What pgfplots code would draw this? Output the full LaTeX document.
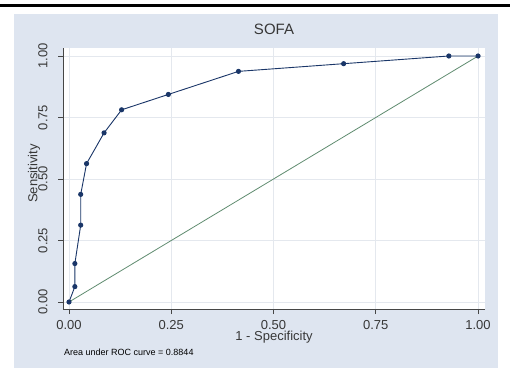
\documentclass[border=0pt]{standalone}
\usepackage{pgfplots}
\pgfplotsset{compat=1.18}
\usepackage{fontspec}
\setmainfont{Liberation Sans}
\definecolor{panel}{RGB}{222,229,240}
\definecolor{navy}{RGB}{26,54,104}
\definecolor{diag}{RGB}{96,140,112}
\definecolor{gridc}{RGB}{228,232,238}
\definecolor{axc}{RGB}{70,70,70}
\definecolor{txt}{RGB}{55,55,55}
\begin{document}
\begin{tikzpicture}[x=1pt,y=1pt]
\path[use as bounding box] (0,0) rectangle (510,368);
\fill[panel] (14,0) rectangle (498,354);
\fill[black] (0,361) rectangle (510,364);
\begin{axis}[
 at={(63pt,59pt)}, anchor=south west,
 scale only axis, width=422pt, height=261pt,
 xmin=-0.0147, xmax=1.017, ymin=-0.0285, ymax=1.0325,
 axis background/.style={fill=white},
 axis x line*=bottom, axis y line*=left,
 axis line style={axc, line width=0.9pt, -},
 xtick={0,0.25,0.5,0.75,1}, ytick={0,0.25,0.5,0.75,1},
 tick align=outside, major tick length=5pt,
 tick style={axc, line width=0.8pt},
 grid=major, major grid style={gridc, line width=0.8pt},
 /pgf/number format/.cd, fixed, fixed zerofill, precision=2, assume math mode=true,
 /pgfplots/.cd,
 ticklabel style={font=\fontsize{13}{15}\selectfont, text=txt},
 xticklabel style={yshift=-3pt},
 yticklabel style={xshift=-7pt, rotate=90, anchor=south},
 xlabel={1 - Specificity},
 ylabel={Sensitivity},
 label style={font=\fontsize{13}{15}\selectfont, text=txt},
 xlabel style={at={(axis description cs:0.5,0)}, anchor=center, yshift=-28pt},
 ylabel style={at={(axis description cs:0,0.519)}, anchor=center, yshift=29pt},
]
\addplot[diag, line width=0.8pt] coordinates {(0,0) (1,1)};
\addplot[navy, line width=0.9pt, mark=*, mark size=2.1pt, mark options={fill=navy, draw=navy}] coordinates {
(0,0)
(0.0143,0.0625)
(0.0143,0.15625)
(0.0286,0.3125)
(0.0286,0.4375)
(0.0429,0.5625)
(0.0857,0.6875)
(0.1286,0.78125)
(0.2429,0.84375)
(0.4143,0.9375)
(0.6714,0.96875)
(0.9286,1)
(1,1)
};
\end{axis}
\node[font=\fontsize{15}{17}\selectfont, text=txt] at (274,339) {SOFA};
\node[font=\fontsize{9}{11}\selectfont, text=black, anchor=west, inner sep=0pt] at (64,16) {Area under ROC curve = 0.8844};
\end{tikzpicture}
\end{document}
